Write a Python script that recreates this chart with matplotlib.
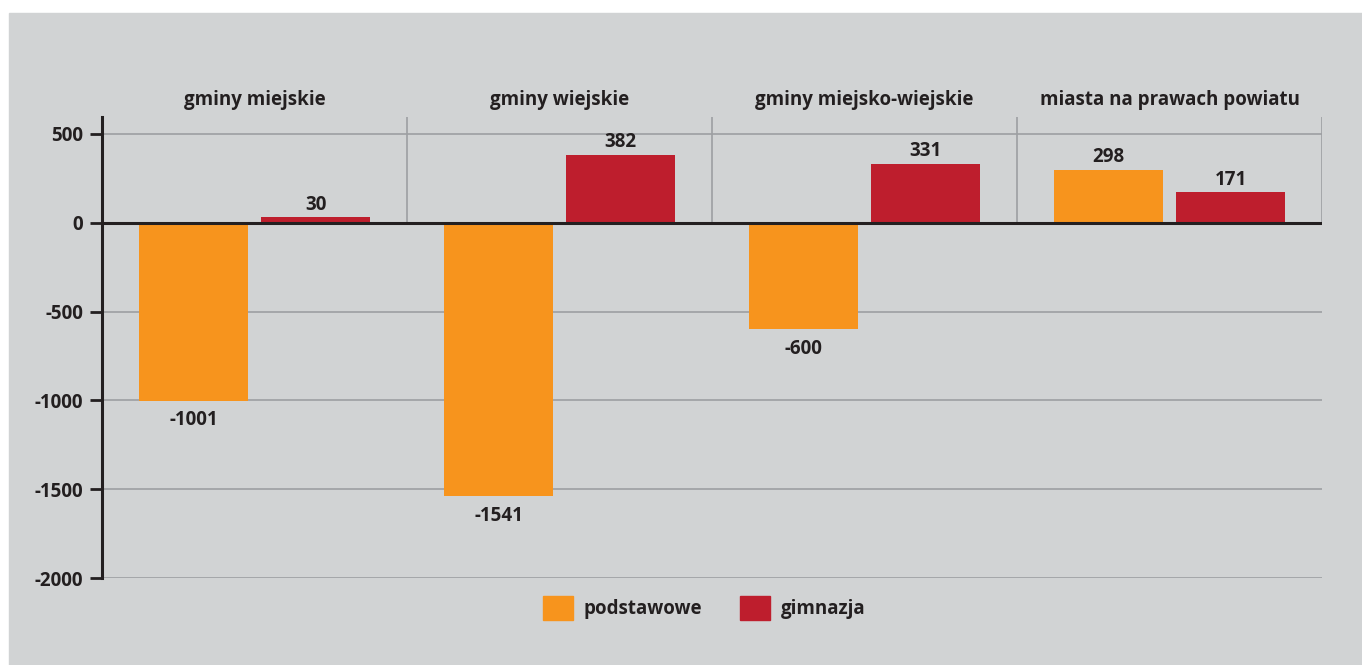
import numpy as np
import matplotlib.pyplot as plt
from matplotlib.patches import Rectangle, Patch

categories = ['gminy miejskie', 'gminy wiejskie', 'gminy miejsko-wiejskie',
              'miasta na prawach powiatu']
podstawowe = [-1001, -1541, -600, 298]
gimnazja = [30, 382, 331, 171]
series_names = ['podstawowe', 'gimnazja']
yticks = [500, 0, -500, -1000, -1500, -2000]

orange = '#f7941d'
red = '#be1e2d'
bg = '#d1d3d4'
txt = '#231f20'
grid = '#9d9fa2'

plt.rcParams['font.family'] = ['Open Sans', 'DejaVu Sans']
plt.rcParams['font.weight'] = 'bold'

fig = plt.figure(figsize=(13.62, 6.65), dpi=100)
fig.patches.append(Rectangle((9 / 1362, 0), 1, (665 - 13) / 665,
                             transform=fig.transFigure, color=bg, zorder=-10))
ax = fig.add_axes([102 / 1362, 87 / 665, (1322 - 102) / 1362, 461 / 665])
ax.set_facecolor('none')

x = np.arange(len(categories))
off, w = 0.2, 0.36
ax.bar(x - off, podstawowe, w, color=orange, zorder=3)
ax.bar(x + off, gimnazja, w, color=red, zorder=3)

ax.set_xlim(-0.5, len(categories) - 0.5)
ax.set_ylim(-2000, 595)

for y in yticks:
    if y != 0:
        ax.axhline(y, color=grid, lw=1.2, zorder=1)
ax.axhline(0, color=txt, lw=2.2, zorder=4)
ax.vlines(x[1:] - 0.5, 0, 595, color=grid, lw=1.2, zorder=1)
ax.vlines(len(categories) - 0.5, 0, 595, color=grid, lw=1.2, zorder=1)

for s in ['top', 'right', 'bottom']:
    ax.spines[s].set_visible(False)
ax.spines['left'].set_color(txt)
ax.spines['left'].set_linewidth(2.2)
ax.spines['left'].set_zorder(5)
ax.set_xticks([])
ax.set_yticks(yticks)
ax.set_yticklabels([str(v) for v in yticks])
ax.tick_params(axis='y', length=8.5, width=2, color=txt, labelsize=13.5,
               labelcolor=txt, pad=5)

for i, c in enumerate(categories):
    ax.text(i, 1.037, c, transform=ax.get_xaxis_transform(), ha='center',
            va='center', fontsize=13.5, color=txt, fontweight='bold')

for vals, o in ((podstawowe, -off), (gimnazja, off)):
    for i, v in enumerate(vals):
        if v >= 0:
            ax.annotate(str(v), (i + o, v), xytext=(0, 2), textcoords='offset points',
                        ha='center', va='bottom', fontsize=13.5, color=txt,
                        fontweight='bold')
        else:
            ax.annotate(str(v), (i + o, v), xytext=(0, -7), textcoords='offset points',
                        ha='center', va='top', fontsize=13.5, color=txt,
                        fontweight='bold')

handles = [Patch(color=orange), Patch(color=red)]
fig.legend(handles, series_names, loc='center', bbox_to_anchor=(0.517, 1 - 608 / 665),
           ncol=2, frameon=False, fontsize=13.5, handlelength=1.6, handleheight=1.6,
           handletextpad=0.6, columnspacing=2.0, labelcolor=txt)

fig.savefig('out.png', dpi=100)
